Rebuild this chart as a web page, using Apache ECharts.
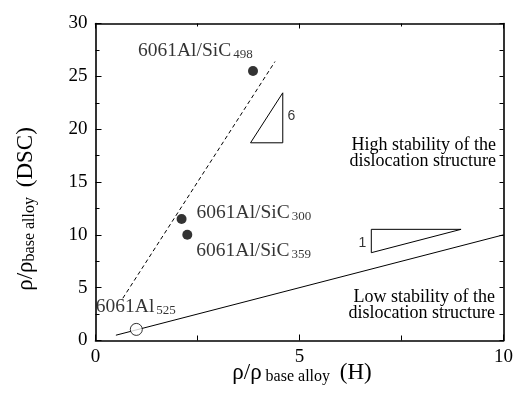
<!DOCTYPE html>
<html><head><meta charset="utf-8">
<script src="https://cdn.jsdelivr.net/npm/echarts@6/dist/echarts.min.js"></script>
<style>html,body{margin:0;padding:0;background:#fff}#c{width:516px;height:393px}</style>
</head><body><div id="c"></div>
<script>
// ---- data ----
const xTickLabels = [0, 5, 10];
const yTickLabels = [0, 5, 10, 15, 20, 25, 30];
const compositeNames = ['6061Al/SiC', '6061Al/SiC', '6061Al/SiC'];
const compositeSubs = ['498', '300', '359'];
const compositeH = [3.86, 2.11, 2.25];
const compositeDSC = [25.5, 11.5, 10.0];
const baseNames = ['6061Al'];
const baseSubs = ['525'];
const baseH = [1.0];
const baseDSC = [1.05];
const slope6LineH = [0.67, 4.4];
const slope6LineDSC = [4.0, 26.4];
const slope1LineH = [0.5, 10];
const slope1LineDSC = [0.5, 10];
const tri6H = [3.80, 4.59, 4.59, 3.80];
const tri6DSC = [18.71, 23.44, 18.71, 18.71];
const tri1H = [6.76, 8.96, 6.76, 6.76];
const tri1DSC = [8.31, 10.52, 10.52, 8.31];
const slopeLabels = ['6', '1'];
const slopeLabelH = [4.80, 6.54];
const slopeLabelDSC = [21.2, 9.25];

// ---- styling ----
const SERIF = '"Liberation Serif", "Times New Roman", serif';
const SANS = '"Liberation Sans", Arial, sans-serif';
const zip = (a, b) => a.map((v, i) => [v, b[i]]);
const richSub = {
  m: { fontFamily: SERIF, fontSize: 19.5, color: '#000', lineHeight: 20, verticalAlign: 'top', padding: [0, 2, 4, 0] },
  s: { fontFamily: SERIF, fontSize: 13, color: '#000', lineHeight: 13, verticalAlign: 'bottom' }
};
const compLabelPos = [[-110, -15], [20, -1], [14, 21]];
const baseLabelPos = [[-34, -16]];

const axisLineStyle = { color: '#000', width: 1.6 };
function makeAxis(pos, min, max, showLabel, majorLen, minorLen) {
  return {
    type: 'value', position: pos, min: min, max: max, interval: 5,
    axisLine: { show: true, onZero: false, lineStyle: axisLineStyle },
    axisTick: { show: true, inside: true, length: majorLen, lineStyle: { color: '#000', width: 1 } },
    minorTick: { show: true, splitNumber: 2, length: minorLen, lineStyle: { color: '#000', width: 1 } },
    splitLine: { show: false }, minorSplitLine: { show: false },
    axisLabel: { show: showLabel, color: '#000', fontFamily: SERIF, fontSize: 19, margin: pos === 'bottom' ? 7 : 8 }
  };
}

const chart = echarts.init(document.getElementById('c'), null, { renderer: 'canvas' });
chart.setOption({
  animation: false,
  backgroundColor: '#fff',
  grid: { left: 95.5, right: 11.5, top: 23.5, bottom: 52.5, containLabel: false },
  xAxis: [
    makeAxis('bottom', xTickLabels[0], xTickLabels[xTickLabels.length - 1], true, 6, 5),
    makeAxis('top', xTickLabels[0], xTickLabels[xTickLabels.length - 1], false, 5, 3)
  ],
  yAxis: [
    makeAxis('left', yTickLabels[0], yTickLabels[yTickLabels.length - 1], true, 6, 4),
    makeAxis('right', yTickLabels[0], yTickLabels[yTickLabels.length - 1], false, 4, 4)
  ],
  series: [
    { type: 'line', data: zip(slope6LineH, slope6LineDSC), symbol: 'none', silent: true,
      lineStyle: { color: '#000', width: 1, type: [4, 3] } },
    { type: 'line', data: zip(slope1LineH, slope1LineDSC), symbol: 'none', silent: true,
      lineStyle: { color: '#000', width: 1 } },
    { type: 'line', data: zip(tri6H, tri6DSC), symbol: 'none', silent: true,
      lineStyle: { color: '#000', width: 1 } },
    { type: 'line', data: zip(tri1H, tri1DSC), symbol: 'none', silent: true,
      lineStyle: { color: '#000', width: 1 } },
    { type: 'scatter', symbolSize: 0.1, itemStyle: { color: 'transparent' }, silent: true,
      data: slopeLabels.map((t, i) => ({ value: [slopeLabelH[i], slopeLabelDSC[i]], name: t })),
      label: { show: true, position: 'inside', formatter: p => p.name, fontFamily: SANS, fontSize: 14, color: '#000' } },
    { type: 'scatter', symbol: 'circle', symbolSize: 10, itemStyle: { color: '#000' }, z: 5,
      data: compositeNames.map((n, i) => ({
        value: [compositeH[i], compositeDSC[i]],
        label: { show: true, position: compLabelPos[i], align: 'left', verticalAlign: 'middle',
          formatter: '{m|' + n + '}{s|' + compositeSubs[i] + '}', rich: richSub }
      })) },
    { type: 'scatter', symbol: 'circle', symbolSize: 12, z: 6,
      itemStyle: { color: '#fff', borderColor: '#000', borderWidth: 1 },
      data: baseNames.map((n, i) => ({
        value: [baseH[i], baseDSC[i]],
        label: { show: true, position: baseLabelPos[i], align: 'left', verticalAlign: 'middle',
          formatter: '{m|' + n + '}{s|' + baseSubs[i] + '}', rich: richSub }
      })) }
  ],
  graphic: [
    { type: 'text', x: 496, y: 153, style: { text: 'High stability of the\ndislocation structure',
      font: '18px ' + SERIF, fill: '#000', align: 'right', verticalAlign: 'middle', lineHeight: 16 } },
    { type: 'text', x: 495, y: 305, style: { text: 'Low stability of the\ndislocation structure',
      font: '18px ' + SERIF, fill: '#000', align: 'right', verticalAlign: 'middle', lineHeight: 16 } },
    { type: 'text', x: 302, y: 373, style: {
      text: '{m|ρ/ρ}{s| base alloy }{m| (H)}', align: 'center', verticalAlign: 'middle',
      rich: {
        m: { fontFamily: SERIF, fontSize: 23, fill: '#000', lineHeight: 23, verticalAlign: 'top', padding: [0, 0, 4, 0] },
        s: { fontFamily: SERIF, fontSize: 16, fill: '#000', lineHeight: 16, verticalAlign: 'bottom' }
      } } },
    { type: 'text', x: 26, y: 209, rotation: Math.PI / 2, style: {
      text: '{m|ρ/ρ}{s|base alloy }{m| (DSC)}', align: 'center', verticalAlign: 'middle',
      rich: {
        m: { fontFamily: SERIF, fontSize: 23, fill: '#000', lineHeight: 23, verticalAlign: 'top', padding: [0, 0, 4, 0] },
        s: { fontFamily: SERIF, fontSize: 16, fill: '#000', lineHeight: 16, verticalAlign: 'bottom' }
      } } }
  ]
});
</script></body></html>
